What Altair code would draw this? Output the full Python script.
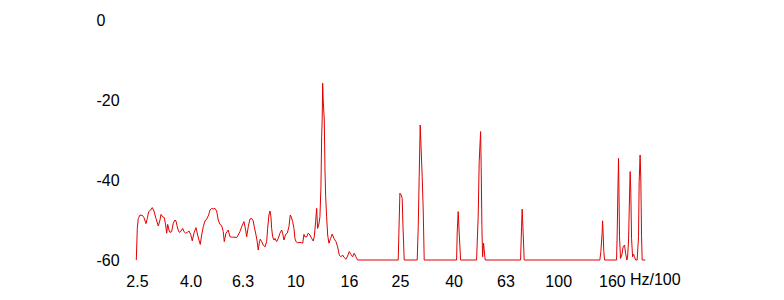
import altair as alt
import pandas as pd

# Frequency (Hz/100) and level (dB)
freqs = [2.485, 2.507, 2.529, 2.567, 2.628, 2.658, 2.705, 2.736, 2.770, 2.819,
         2.858, 2.901, 2.952, 3.013, 3.058, 3.085, 3.131, 3.175, 3.214, 3.242,
         3.271, 3.308, 3.337, 3.388, 3.435, 3.487, 3.518, 3.558, 3.602, 3.643,
         3.697, 3.730, 3.773, 3.829, 3.883, 3.942, 4.001, 4.057, 4.118, 4.191,
         4.254, 4.302, 4.351, 4.405, 4.467, 4.534, 4.602, 4.684, 4.737, 4.808,
         4.876, 4.949, 5.023, 5.094, 5.171, 5.248, 5.322, 5.369, 5.450, 5.560,
         5.644, 5.759, 5.896, 5.985, 6.069, 6.160, 6.253, 6.380, 6.476, 6.532,
         6.625, 6.724, 6.825, 6.921, 6.982, 7.068, 7.149, 7.231, 7.294, 7.359,
         7.449, 7.554, 7.668, 7.783, 7.851, 7.941, 8.011, 8.081, 8.131, 8.202,
         8.296, 8.369, 8.495, 8.615, 8.744, 8.875, 8.953, 9.055, 9.191, 9.321,
         9.461, 9.569, 9.653, 9.772, 9.884, 9.971, 10.06, 10.21, 10.42, 10.57,
         10.67, 10.79, 10.88, 11.05, 11.20, 11.37, 11.54, 11.70, 11.81, 11.95,
         12.06, 12.16, 12.30, 12.41, 12.52, 12.60, 12.66, 12.71, 12.77, 12.89,
         12.97, 13.05, 13.16, 13.28, 13.43, 13.63, 13.82, 14.03, 14.28, 14.49,
         14.70, 14.92, 15.14, 15.35, 15.58, 15.82, 16.04, 16.28, 16.52, 16.76,
         17.01, 17.26,
         24.63, 25.00, 25.29, 25.51, 25.67, 25.96,
         29.09, 29.35, 29.60, 29.86, 30.05, 30.39, 30.66, 30.93,
         41.07, 41.29, 41.65, 42.02, 42.53,
         48.93, 49.62, 50.06, 50.68, 50.94, 51.26, 51.57, 52.02, 52.30, 52.76,
         71.93, 72.56, 72.94, 73.58, 74.23,
         144.0, 145.3, 146.9, 147.5, 148.2, 149.1, 150.1,
         166.7, 167.6, 168.6, 169.6, 170.1, 171.1, 172.6, 174.6, 176.6, 178.8,
         180.4, 182.4, 183.5, 185.2, 186.8, 187.8, 188.9, 190.1, 191.8, 193.4,
         195.1, 196.9, 199.6, 202.1, 203.2, 204.9, 206.2, 207.5, 208.6, 214.5]

levels = [-60, -52.1, -49.6, -48.75, -48.9, -49.4, -50.9, -49.6, -47.9, -47.5,
          -46.9, -47.75, -49.6, -51.5, -50, -48.6, -49.2, -49.4, -51.25, -53.3,
          -51.1, -52.5, -53.1, -52.9, -50.8, -50, -50.25, -51.7, -52.9, -53.1,
          -52.5, -52.1, -52.9, -53.3, -53.1, -52.75, -53.6, -55.2, -53.3, -51.9,
          -53.75, -55, -56.1, -53.75, -51.7, -50.25, -49.75, -48.75, -47.5, -47.1,
          -47.25, -47.1, -47.75, -50, -51.1, -51.4, -52.9, -55.4, -53.3, -52.5,
          -54.2, -54.3, -54.3, -54.4, -53.75, -52.9, -51.7, -50.4, -52.5, -54.2,
          -51.7, -49.75, -49.6, -50.25, -51.7, -53.3, -55, -57.5, -55.8, -54.8,
          -55.4, -56.25, -56.7, -55.4, -52.1, -48.75, -47.75, -49.2, -52.1, -54.2,
          -55, -54.6, -55.4, -54.6, -53.3, -52.5, -53.3, -55, -53.6, -53.3,
          -51.7, -48.75, -49.2, -50.4, -52.1, -54.6, -55.4, -55.7, -55.6, -55.7,
          -55.8, -53.6, -54.2, -54.2, -53.3, -53.75, -54.6, -55.25, -54.2, -50.4,
          -47.1, -52.1, -51, -49.2, -41.7, -29.2, -24.6, -15.8, -20, -25,
          -37.5, -44.2, -49.2, -53.75, -55.8, -54.6, -53.5, -54.6, -55.4, -56.7,
          -58.75, -59.2, -58.75, -59.4, -59.8, -59, -57.9, -58.6, -59.2, -58.3,
          -59.2, -60,
          -60, -43.3, -43.75, -44.6, -51.25, -60,
          -60, -51.7, -39.2, -26.25, -30.8, -39.2, -47.5, -60,
          -60, -53.25, -47.9, -53.25, -60,
          -60, -49.2, -35.4, -27.9, -36.7, -51.7, -59.2, -55.8, -57.5, -60,
          -60, -51.7, -47.3, -53.3, -60,
          -60, -57.9, -53.3, -50.2, -53.3, -57.9, -60,
          -60, -53.75, -43.3, -34.6, -40.8, -54.2, -59.6, -58.75, -56.7, -56.25,
          -58.3, -60, -59.6, -55, -43.75, -37.9, -43.3, -54.6, -59.2, -58.5,
          -59.2, -60, -60, -54.2, -40.4, -33.75, -40, -54.2, -60, -60]

assert len(freqs) == len(levels), f"{len(freqs)} vs {len(levels)}"

x_ticks = [2.5, 4, 6.3, 10, 16, 25, 40, 63, 100, 160]
x_tick_labels = ["2.5", "4.0", "6.3", "10", "16", "25", "40", "63", "100", "160"]
y_ticks = [0, -20, -40, -60]
y_tick_labels = ["0", "-20", "-40", "-60"]
unit_label = "Hz/100"
unit_pos = 234

df = pd.DataFrame({"f": freqs, "db": levels})


def make_expr(vals, labels):
    return " : ".join(
        [f"datum.value == {v} ? '{t}'" for v, t in zip(vals, labels)] + ["''"]
    )


FONT = "Liberation Sans"
W, H = 605, 240

xscale = alt.Scale(type="log", domain=[2, 400], nice=False)
yscale = alt.Scale(domain=[-60, 0], nice=False, zero=False)

line = alt.Chart(df).mark_line(color="#e00000", strokeWidth=1).encode(
    x=alt.X("f:Q", scale=xscale,
            axis=alt.Axis(values=x_ticks, labelExpr=make_expr(x_ticks, x_tick_labels),
                          title=None, domain=False, ticks=False, tickSize=0,
                          grid=False, labelPadding=13, labelFont=FONT,
                          labelFontSize=16, labelColor="#000000", labelFlush=False,
                          labelOverlap=False)),
    y=alt.Y("db:Q", scale=yscale,
            axis=alt.Axis(values=y_ticks, labelExpr=make_expr(y_ticks, y_tick_labels),
                          title=None, domain=False, ticks=False,
                          tickSize=0, grid=False, labelAlign="left",
                          labelPadding=15.5, labelFont=FONT, labelFontSize=16,
                          labelColor="#000000")),
)

unit = alt.Chart(pd.DataFrame({"f": [unit_pos], "t": [unit_label]})).mark_text(
    font=FONT, fontSize=16, color="#000000", align="center", baseline="middle"
).encode(
    x=alt.X("f:Q", scale=xscale),
    y=alt.value(H + 20),
    text="t:N",
)

chart = alt.layer(line, unit).properties(
    width=W, height=H,
    autosize=alt.AutoSizeParams(type="none"),
    padding={"left": 111.5, "top": 20, "right": 784 - 111.5 - W, "bottom": 40},
).configure(background="white").configure_view(strokeWidth=0, stroke="transparent")

chart.save("out.html", embed_options={"renderer": "svg", "actions": False})
